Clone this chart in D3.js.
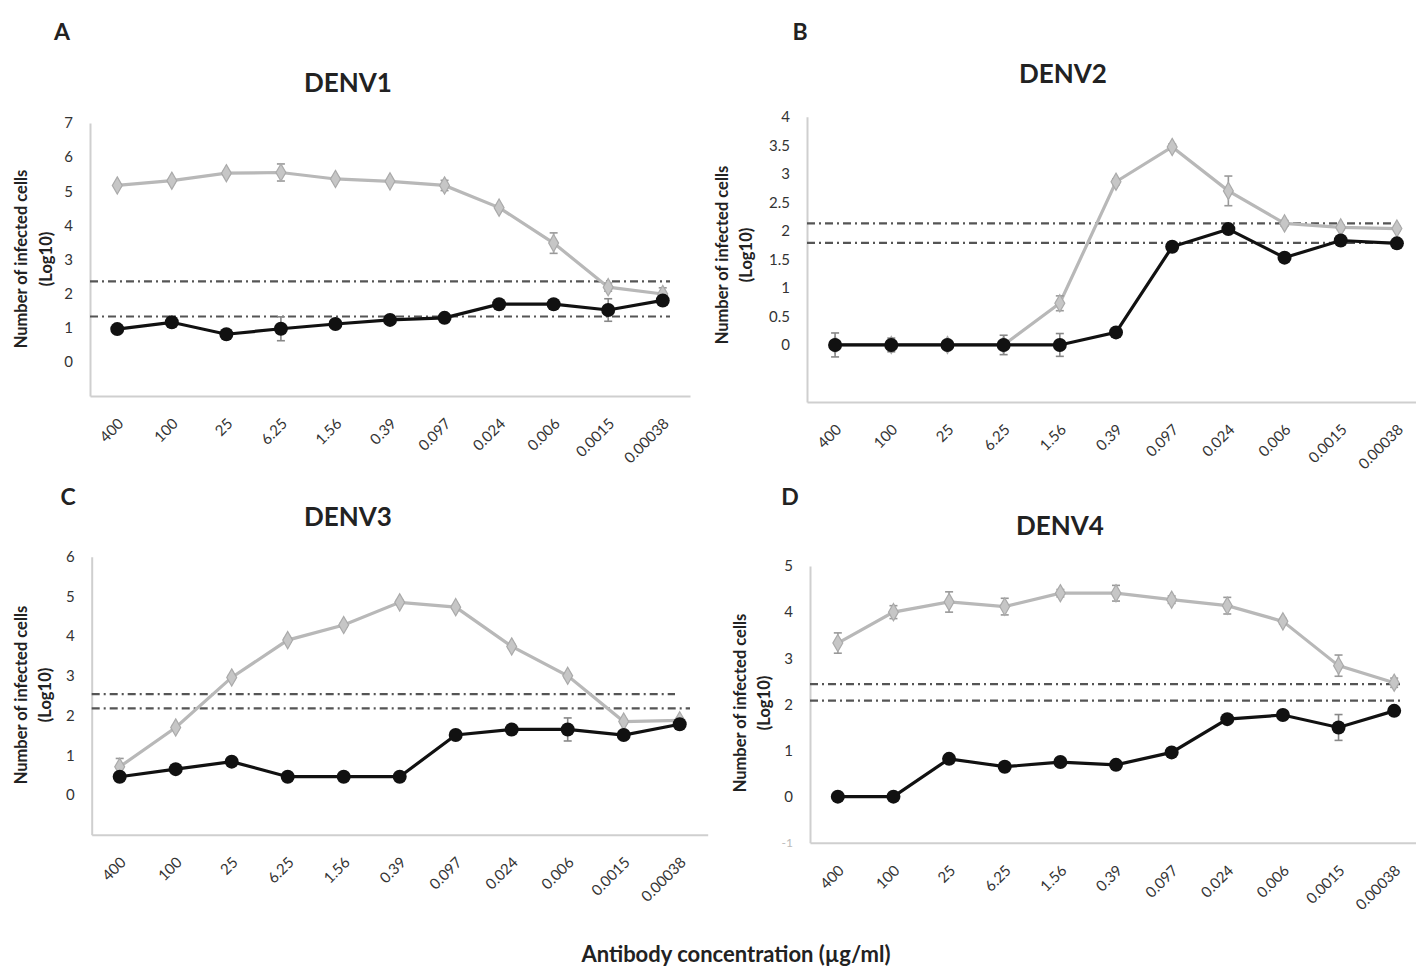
<!DOCTYPE html>
<html>
<head>
<meta charset="utf-8">
<script src="https://cdn.jsdelivr.net/npm/d3@7/dist/d3.min.js"></script>
<style>
  body { margin: 0; background: #fff; }
  text { font-family: Lato, "Open Sans", sans-serif; }
</style>
</head>
<body>
<svg id="fig" width="1416" height="969"></svg>
<script>
// antibody dilutions on the x axis (ug/ml)
const concentrations = ["400","100","25","6.25","1.56","0.39","0.097","0.024","0.006","0.0015","0.00038"];

// DENV1
const denv1Light    = [5.17,5.31,5.53,5.55,5.36,5.29,5.17,4.52,3.48,2.19,1.99];
const denv1LightErr = [0.05,0.05,0.05,0.25,0.05,0.05,0.15,0.06,0.30,0.12,0.18];
const denv1Dark     = [0.96,1.16,0.81,0.97,1.11,1.23,1.29,1.69,1.69,1.52,1.80];
const denv1DarkErr  = [0.05,0.05,0.05,0.35,0.05,0.05,0.05,0.05,0.05,0.33,0.10];
const denv1Cutoffs  = [2.36,1.33];
const denv1Ticks    = [0,1,2,3,4,5,6,7];

// DENV2
const denv2Light    = [0,0,0,0,0.73,2.86,3.47,2.70,2.13,2.06,2.04];
const denv2LightErr = [0,0,0,0,0.13,0.05,0.05,0.26,0.05,0.04,0.04];
const denv2Dark     = [0,0,0,0,0,0.22,1.72,2.03,1.53,1.83,1.78];
const denv2DarkErr  = [0.21,0.12,0,0.17,0.20,0.05,0.05,0.05,0.05,0.05,0.05];
const denv2Cutoffs  = [2.13,1.79];
const denv2Ticks    = [0,0.5,1,1.5,2,2.5,3,3.5,4];

// DENV3
const denv3Light    = [0.71,1.70,2.96,3.90,4.28,4.85,4.73,3.74,3.00,1.85,1.88];
const denv3LightErr = [0.21,0.05,0.05,0.05,0.05,0.05,0.05,0.05,0.05,0.05,0.05];
const denv3Dark     = [0.46,0.65,0.84,0.46,0.46,0.46,1.51,1.65,1.65,1.51,1.78];
const denv3DarkErr  = [0.05,0.05,0.05,0.05,0.05,0.05,0.05,0.05,0.29,0.05,0.05];
const denv3Cutoffs  = [2.54,2.18];
const denv3Ticks    = [0,1,2,3,4,5,6];

// DENV4
const denv4Light    = [3.33,4.00,4.22,4.12,4.41,4.41,4.27,4.14,3.80,2.84,2.47];
const denv4LightErr = [0.22,0.14,0.22,0.18,0.08,0.17,0.08,0.18,0.06,0.23,0.10];
const denv4Dark     = [0,0,0.82,0.65,0.75,0.69,0.96,1.68,1.77,1.50,1.86];
const denv4DarkErr  = [0.05,0.05,0.05,0.05,0.05,0.05,0.05,0.05,0.05,0.28,0.05];
const denv4Cutoffs  = [2.44,2.08];
const denv4Ticks    = [0,1,2,3,4,5];

const panels = [
  { letter:"A", title:"DENV1", light:denv1Light, lightErr:denv1LightErr, dark:denv1Dark, darkErr:denv1DarkErr,
    cutoffs:denv1Cutoffs, ticks:denv1Ticks, ymax:7,
    x0:90, x1:690, yTop:123, yBot:396, cutEnd:[670,670],
    letterPos:[62,40], titlePos:[348,92], ylab:[21,46,259] },
  { letter:"B", title:"DENV2", light:denv2Light, lightErr:denv2LightErr, dark:denv2Dark, darkErr:denv2DarkErr,
    cutoffs:denv2Cutoffs, ticks:denv2Ticks, ymax:4,
    x0:807, x1:1425, yTop:116.7, yBot:402, cutEnd:[1392,1392],
    letterPos:[800,40], titlePos:[1063,83], ylab:[722,746,255] },
  { letter:"C", title:"DENV3", light:denv3Light, lightErr:denv3LightErr, dark:denv3Dark, darkErr:denv3DarkErr,
    cutoffs:denv3Cutoffs, ticks:denv3Ticks, ymax:6,
    x0:91.7, x1:707.7, yTop:556.7, yBot:834.7, cutEnd:[675,690],
    letterPos:[68,505], titlePos:[348,526], ylab:[21,45,695] },
  { letter:"D", title:"DENV4", light:denv4Light, lightErr:denv4LightErr, dark:denv4Dark, darkErr:denv4DarkErr,
    cutoffs:denv4Cutoffs, ticks:denv4Ticks, ymax:5, faintMin:true,
    x0:810, x1:1422, yTop:566, yBot:842.8, cutEnd:[1402,1402],
    letterPos:[790,505], titlePos:[1060,535], ylab:[740,764,703] }
];

const svg = d3.select("#fig");
const LIGHT = "#b8b8b8", AXIS = "#cfcfcf";

panels.forEach(p => {
  const g = svg.append("g");
  const x = d3.scalePoint().domain(concentrations).range([p.x0, p.x1]).padding(0.5);
  const y = d3.scaleLinear().domain([-1, p.ymax]).range([p.yBot, p.yTop]);

  // axes
  const xa = g.append("g").attr("transform", `translate(0,${p.yBot})`)
    .call(d3.axisBottom(x).tickSize(0));
  xa.select(".domain").attr("stroke", AXIS).attr("stroke-width", 2);
  xa.selectAll("text")
    .attr("x", 0).attr("y", 0).attr("dy", "0.35em")
    .attr("text-anchor", "end")
    .attr("transform", "translate(3,25) rotate(-45)")
    .attr("fill", "#333").attr("font-size", 15);

  const ya = g.append("g").attr("transform", `translate(${p.x0},0)`)
    .call(d3.axisLeft(y).tickValues(p.ticks).tickSize(0).tickPadding(17).tickFormat(d3.format("")));
  ya.select(".domain").attr("stroke", AXIS).attr("stroke-width", 2);
  ya.selectAll("text").attr("fill", "#333").attr("font-size", 15);
  if (p.faintMin) {
    g.append("text").attr("x", p.x0 - 17).attr("y", y(-1)).attr("dy", "0.35em")
      .attr("text-anchor", "end").attr("font-size", 12).attr("fill", "#bbb").text("-1");
  }

  // cutoff lines
  g.selectAll(".cut").data(p.cutoffs).join("line")
    .attr("x1", p.x0).attr("x2", (d, i) => p.cutEnd[i])
    .attr("y1", d => y(d)).attr("y2", d => y(d))
    .attr("stroke", "#555").attr("stroke-width", 2.2)
    .attr("stroke-dasharray", "8,4,2,4");

  const pts = (vals, errs) => vals.map((v, i) => ({ c: concentrations[i], v, e: errs[i] }));
  const lightPts = pts(p.light, p.lightErr);
  const darkPts = pts(p.dark, p.darkErr);
  const line = d3.line().x(d => x(d.c)).y(d => y(d.v));

  const errBars = (data, col) => {
    const eg = g.append("g").attr("stroke", col).attr("stroke-width", 1.6);
    data.filter(d => d.e > 0).forEach(d => {
      const cx = x(d.c);
      eg.append("line").attr("x1", cx).attr("x2", cx).attr("y1", y(d.v - d.e)).attr("y2", y(d.v + d.e));
      eg.append("line").attr("x1", cx - 4).attr("x2", cx + 4).attr("y1", y(d.v - d.e)).attr("y2", y(d.v - d.e));
      eg.append("line").attr("x1", cx - 4).attr("x2", cx + 4).attr("y1", y(d.v + d.e)).attr("y2", y(d.v + d.e));
    });
  };

  // light grey series (diamonds)
  g.append("path").datum(lightPts).attr("d", line)
    .attr("fill", "none").attr("stroke", LIGHT).attr("stroke-width", 3.2);
  errBars(lightPts, "#999");
  g.selectAll(".dia").data(lightPts).join("path")
    .attr("transform", d => `translate(${x(d.c)},${y(d.v)})`)
    .attr("d", d3.symbol(d3.symbolDiamond, 85))
    .attr("fill", "#c6c6c6").attr("stroke", "#aaa").attr("stroke-width", 1.2);

  // black series (circles)
  errBars(darkPts, "#888");
  g.append("path").datum(darkPts).attr("d", line)
    .attr("fill", "none").attr("stroke", "#111").attr("stroke-width", 3.2);
  g.selectAll(".dot").data(darkPts).join("circle")
    .attr("cx", d => x(d.c)).attr("cy", d => y(d.v)).attr("r", 7)
    .attr("fill", "#111");

  // labels
  g.append("text").attr("x", p.letterPos[0]).attr("y", p.letterPos[1])
    .attr("text-anchor", "middle").attr("font-weight", "bold").attr("font-size", 23).attr("fill", "#222")
    .text(p.letter);
  g.append("text").attr("x", p.titlePos[0]).attr("y", p.titlePos[1])
    .attr("text-anchor", "middle").attr("font-weight", "bold").attr("font-size", 26).attr("fill", "#222")
    .text(p.title);
  const yl = g.append("text").attr("transform", `translate(${p.ylab[0]},${p.ylab[2]}) rotate(-90)`)
    .attr("text-anchor", "middle").attr("font-weight", "bold").attr("font-size", 16.5).attr("fill", "#222");
  yl.append("tspan").attr("x", 0).attr("dy", "0.35em").text("Number of infected cells");
  yl.append("tspan").attr("x", 0).attr("dy", `${p.ylab[1] - p.ylab[0]}px`).text("(Log10)");
});

svg.append("text").attr("x", 736).attr("y", 962)
  .attr("text-anchor", "middle").attr("font-weight", "bold").attr("font-size", 22).attr("fill", "#222")
  .text("Antibody concentration (µg/ml)");
</script>
</body>
</html>
